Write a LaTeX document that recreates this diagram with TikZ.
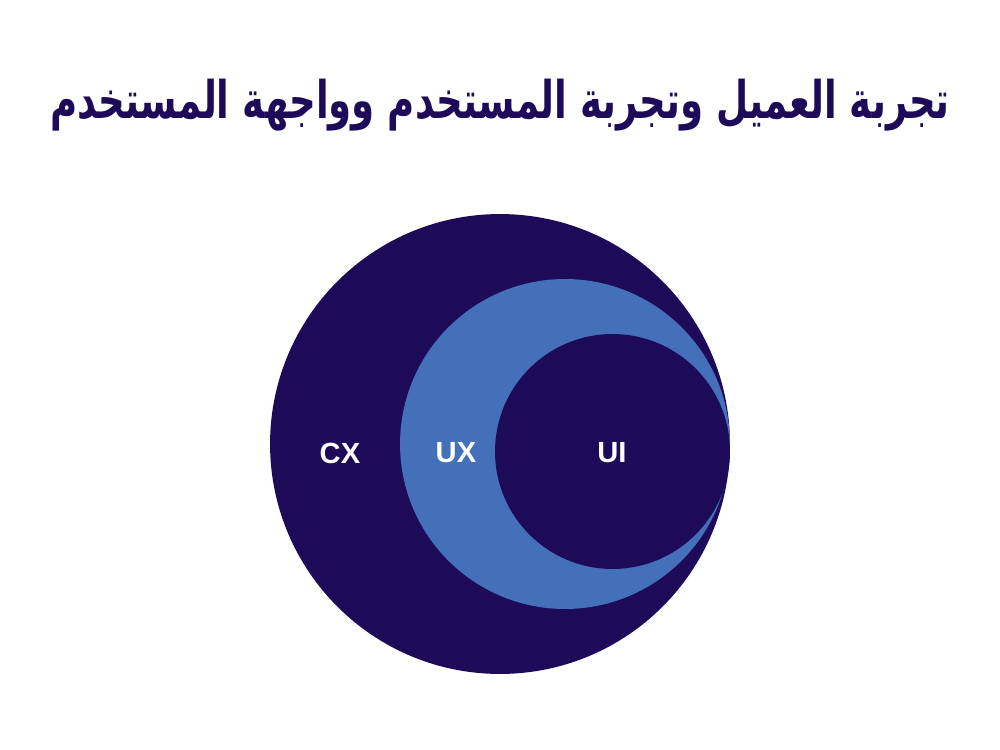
\documentclass[tikz,border=0pt]{standalone}
\usepackage{fontspec}
\setmainfont{Liberation Sans}
\newfontfamily\arabicfont[Script=Arabic]{DejaVu Sans}
\TeXXeTstate=1
\usepackage{tikz}
\usepackage{graphicx}
\definecolor{navy}{HTML}{1D0B5A}
\definecolor{midblue}{HTML}{4470BA}

\begin{document}
\begin{tikzpicture}[x=0.02cm, y=-0.02cm, every node/.style={inner sep=0pt, outer sep=0pt}, ring/.style={circle, fill=#1}, tag/.style={text=white, font=\fontsize{16.6}{20}\selectfont\bfseries}]
\useasboundingbox[fill=white] (0,0) rectangle (1000,750);
\node (title) at (500,105) {\scalebox{1}[1.4]{\resizebox{18cm}{!}{\arabicfont\bfseries\color{navy}\beginR تجربة العميل وتجربة المستخدم وواجهة المستخدم\endR}}};
\node [ring=navy, minimum size=9.2cm] (cx) at (500,444) {};
\node [ring=midblue, minimum size=6.6cm] (ux) at (565,444) {};
\node [ring=navy, minimum size=4.7cm] (ui) at (612.5,451.5) {};
\node [tag] (cxlabel) at (340,453) {CX};
\node [tag] (uxlabel) at (456,453) {UX};
\node [tag] (uilabel) at (612,453) {UI};
\end{tikzpicture}
\end{document}
